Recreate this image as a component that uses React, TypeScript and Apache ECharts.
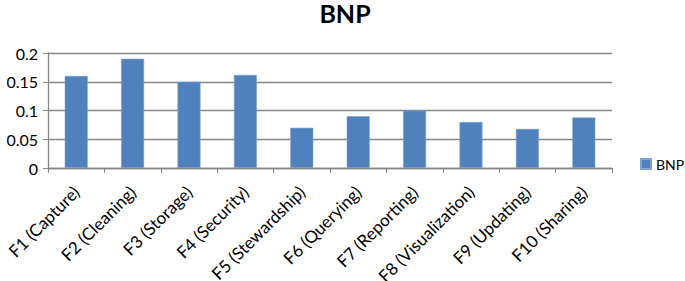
import React, { useEffect, useRef } from "react";
import * as echarts from "echarts";

const categories = [
  "F1 (Capture)",
  "F2 (Cleaning)",
  "F3 (Storage)",
  "F4 (Security)",
  "F5 (Stewardship)",
  "F6 (Querying)",
  "F7 (Reporting)",
  "F8 (Visualization)",
  "F9 (Updating)",
  "F10 (Sharing)",
];
const bnpValues = [0.16, 0.19, 0.15, 0.162, 0.07, 0.09, 0.1, 0.08, 0.068, 0.088];
const seriesName = "BNP";

export default function App() {
  const ref = useRef<HTMLDivElement>(null);
  useEffect(() => {
    if (!ref.current) return;
    const chart = echarts.init(ref.current, null, { renderer: "svg" });
    const font = "Lato, 'Liberation Sans', sans-serif";
    chart.setOption({
      animation: false,
      backgroundColor: "#ffffff",
      textStyle: { fontFamily: font },
      title: {
        text: "BNP",
        left: 345,
        textAlign: "center",
        top: 0,
        padding: 0,
        textStyle: { fontSize: 25, lineHeight: 26, fontWeight: "bold", color: "#000", fontFamily: font },
      },
      legend: {
        data: [seriesName],
        left: 640,
        top: 157,
        orient: "vertical",
        icon: "rect",
        itemWidth: 10,
        itemHeight: 10,
        itemGap: 4,
        textStyle: { fontSize: 14, color: "#000", fontFamily: font },
        padding: 0,
      },
      grid: {
        left: 48,
        right: 73,
        top: 53,
        bottom: 113,
        containLabel: false,
        outerBoundsMode: "none",
      },
      xAxis: {
        type: "category",
        data: categories,
        boundaryGap: true,
        axisLine: { lineStyle: { color: "#868686", width: 1.3 } },
        axisTick: { show: true, alignWithLabel: false, length: 5, lineStyle: { color: "#868686" } },
        axisLabel: { rotate: 45, fontSize: 17, color: "#000", margin: 21, interval: 0, fontFamily: font },
      },
      yAxis: {
        type: "value",
        min: 0,
        max: 0.2,
        interval: 0.05,
        axisLine: { show: true, lineStyle: { color: "#868686", width: 1.3 } },
        axisTick: { show: true, length: 5, lineStyle: { color: "#868686" } },
        splitLine: { lineStyle: { color: "#868686", width: 1.3 } },
        axisLabel: { fontSize: 16, color: "#000", margin: 10, fontFamily: font },
      },
      series: [
        {
          name: seriesName,
          type: "bar",
          data: bnpValues,
          barWidth: 23,
          itemStyle: { color: "#4F81BD", borderColor: "#7FA3D0", borderWidth: 0.6 },
        },
      ],
    });
    return () => chart.dispose();
  }, []);
  return (
    <div
      ref={ref}
      style={{ position: "absolute", left: 0, top: 0, width: 685, height: 281 }}
    />
  );
}
